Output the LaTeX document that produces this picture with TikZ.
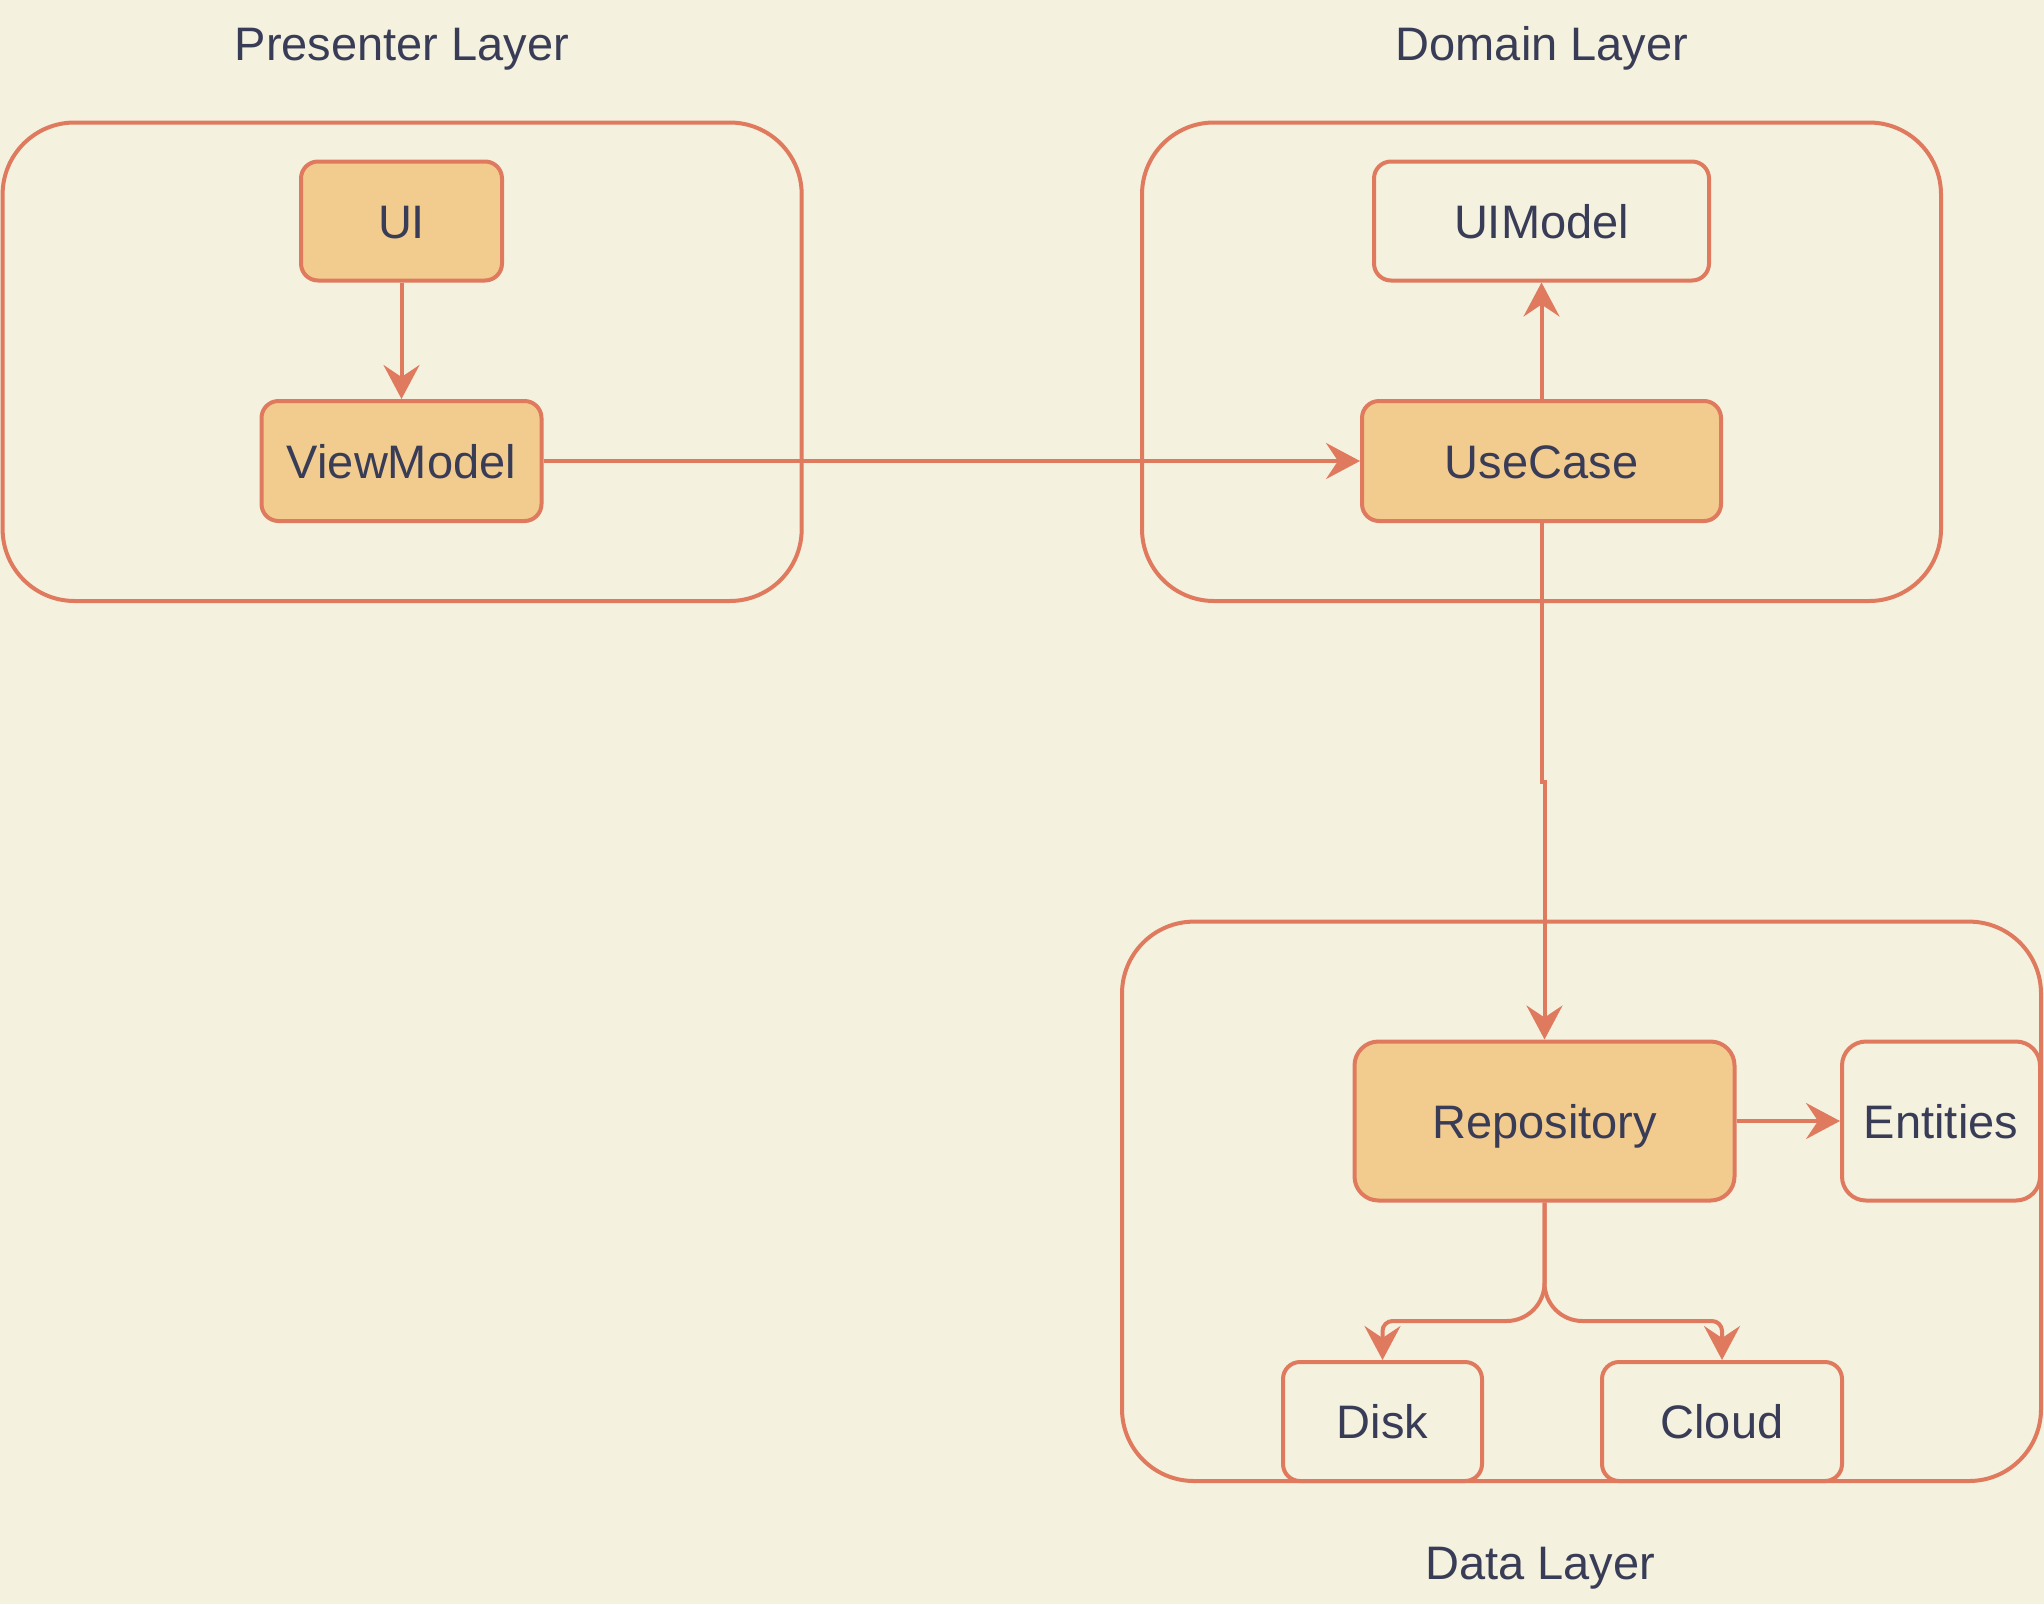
\documentclass[tikz,border=0pt]{standalone}
\usepackage{fontspec}
\setmainfont{Liberation Sans}
\usetikzlibrary{arrows.meta,calc}
\definecolor{bg}{HTML}{F4F1DE}
\definecolor{edge}{HTML}{E07A5F}
\definecolor{warm}{HTML}{F2CC8F}
\definecolor{ink}{HTML}{393C56}

\begin{document}
\begin{tikzpicture}[x=1pt,y=-1pt,
  every node/.style={font=\fontsize{47}{56}\selectfont, text=ink},
  layer/.style={draw=edge, line width=4pt, rounded corners=72pt},
  box/.style={draw=edge, line width=4pt, rounded corners=17pt, inner sep=0pt,
              text height=34pt, text depth=0pt, align=center},
  core/.style={box, fill=warm},
  leaf/.style={box, fill=bg},
  title/.style={inner sep=0pt, text height=34pt, text depth=0pt},
  arr/.style={draw=edge, line width=4pt,
              -{Stealth[length=34pt,width=36pt,inset=12pt]}},
]
% canvas
\fill[bg] (0,0) rectangle (2044,1604);
\useasboundingbox (0,0) rectangle (2044,1604);

% layer frames
\draw[layer] (2.6,122.5) rectangle (801.7,601);
\draw[layer] (1142,122.5) rectangle (1941,601);
\draw[layer] (1122,921.6) rectangle (2041,1481);

% layer titles
\node[title] (tp) at (402,43) {Presenter Layer};
\node[title] (td) at (1542,43) {Domain Layer};
\node[title] (tda) at (1540,1562) {Data Layer};

% presenter layer
\node[core, minimum width=201pt, minimum height=119pt] (ui) at (401.5,221) {UI};
\node[core, minimum width=280pt, minimum height=120pt] (vm) at (401.5,461) {ViewModel};

% domain layer
\node[leaf, minimum width=335pt, minimum height=119pt] (uim) at (1541.5,221) {UIModel};
\node[core, minimum width=359pt, minimum height=120pt] (uc) at (1541.5,461) {UseCase};

% data layer
\node[core, minimum width=380pt, minimum height=159pt, rounded corners=24pt] (repo) at (1544.5,1121) {Repository};
\node[leaf, minimum width=198pt, minimum height=159pt, rounded corners=24pt] (ent) at (1941,1121) {Entities};
\node[leaf, minimum width=199pt, minimum height=119pt] (disk) at (1382.5,1421.5) {Disk};
\node[leaf, minimum width=240pt, minimum height=119pt] (cloud) at (1722,1421.5) {Cloud};

% helper rows
\coordinate (jogrow) at (0,782);
\coordinate (forkrow) at (0,1321);
\coordinate (fork) at (repo.south |- forkrow);
\coordinate (dtop) at (disk.north |- forkrow);
\coordinate (ctop) at (cloud.north |- forkrow);

% connectors
\draw[arr] (ui.south) -- (vm.north);
\draw[arr] (vm.east) -- (uc.west);
\draw[arr] (uc.north) -- (uim.south);
\draw[arr] (uc.south) -- (uc.south |- jogrow) -- (repo.north |- jogrow) -- (repo.north);
\draw[arr] (repo.east) -- (ent.west);
% the fork below the repository: round bends of radius 38
\draw[arr] (repo.south) -- ($(fork)+(0,-38)$)
  .. controls ($(fork)+(0,-17)$) and ($(fork)+(-17,0)$) .. ($(fork)+(-38,0)$)
  -- ($(dtop)+(10,0)$) .. controls ($(dtop)+(4.5,0)$) and ($(dtop)+(0,4.5)$) .. ($(dtop)+(0,10)$)
  -- (disk.north);
\draw[arr] (repo.south) -- ($(fork)+(0,-38)$)
  .. controls ($(fork)+(0,-17)$) and ($(fork)+(17,0)$) .. ($(fork)+(38,0)$)
  -- ($(ctop)+(-10,0)$) .. controls ($(ctop)+(-4.5,0)$) and ($(ctop)+(0,4.5)$) .. ($(ctop)+(0,10)$)
  -- (cloud.north);
\end{tikzpicture}
\end{document}
